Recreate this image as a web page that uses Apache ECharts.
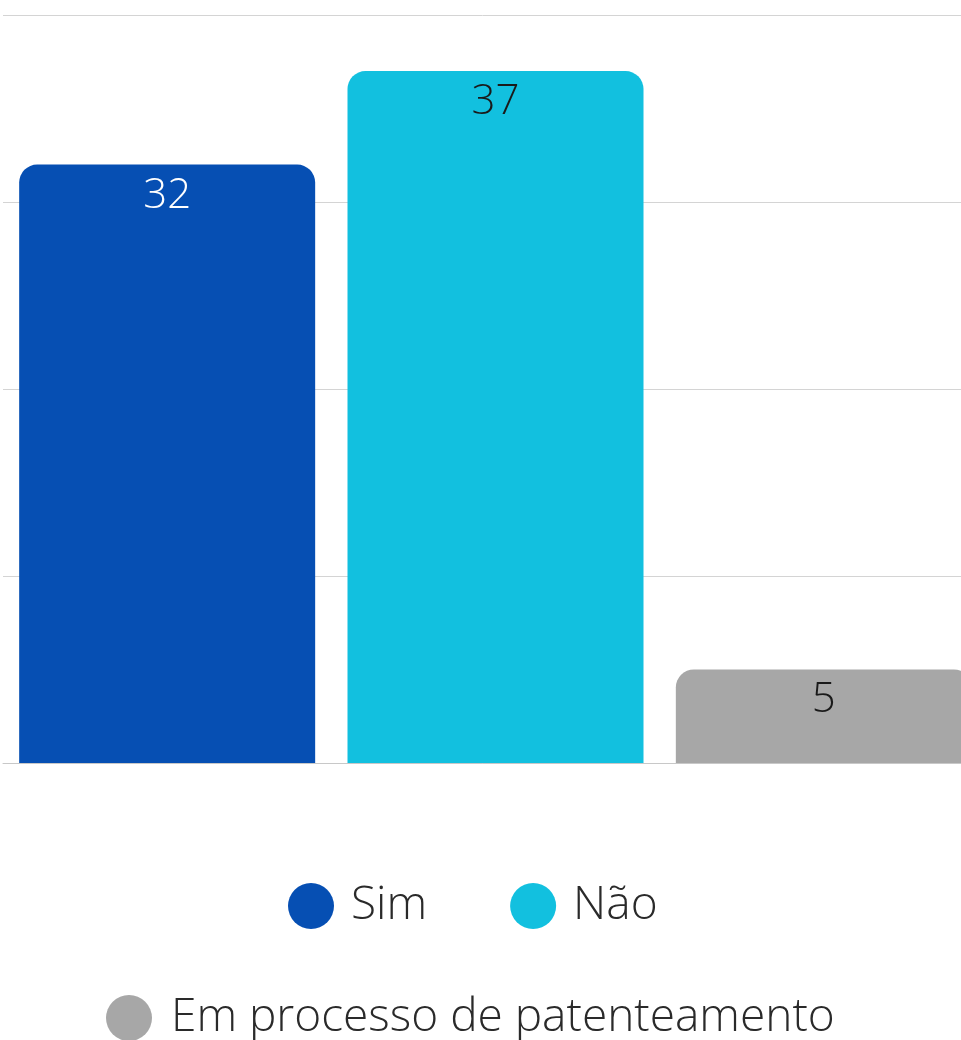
<!DOCTYPE html>
<html>
<head>
<meta charset="utf-8">
<script src="https://cdn.jsdelivr.net/npm/echarts@6/dist/echarts.min.js"></script>
<style>
  html, body { margin: 0; padding: 0; background: #ffffff; }
  #chart { width: 961px; height: 1040px; }
</style>
</head>
<body>
<div id="chart"></div>
<script>
// categorias e valores
var categories = ['Sim', 'Não', 'Em processo de patenteamento'];
var values = [32, 37, 5];
var colors = ['#064fb3', '#12c0df', '#a7a7a7'];
var labelColors = ['#ffffff', '#1a1a1a', '#1a1a1a'];
var yTicks = [0, 10, 20, 30, 40];

var myChart = echarts.init(document.getElementById('chart'));

// uma série por categoria, empilhadas para ficarem centradas
var series = categories.map(function (name, i) {
    var data = categories.map(function (c, j) { return j === i ? values[i] : '-'; });
    return {
        name: name,
        type: 'bar',
        stack: 'total',
        barWidth: 296,
        data: data,
        itemStyle: { color: colors[i], borderRadius: [18, 18, 0, 0] },
        label: {
            show: true,
            position: 'insideTop',
            distance: 10,
            color: labelColors[i],
            fontSize: 42,
            fontFamily: 'Open Sans',
            fontWeight: 300
        }
    };
});

var option = {
    backgroundColor: '#ffffff',
    animation: false,
    grid: { left: 3, top: 15, right: -27, bottom: 277, containLabel: false, outerBoundsMode: 'none' },
    xAxis: {
        type: 'category',
        data: categories,
        axisLine: { show: true, lineStyle: { color: '#c8c8c8', width: 1 } },
        axisTick: { show: false },
        axisLabel: { show: false }
    },
    yAxis: {
        type: 'value',
        min: yTicks[0],
        max: yTicks[yTicks.length - 1],
        interval: 10,
        axisLine: { show: false },
        axisTick: { show: false },
        axisLabel: { show: false },
        splitLine: { lineStyle: { color: '#d4d4d4', width: 1 } }
    },
    legend: [
        {
            data: ['Sim', 'Não'],
            left: 283,
            top: 878,
            icon: 'circle',
            itemWidth: 46,
            itemHeight: 46,
            itemGap: 83,
            textStyle: { fontSize: 46, color: '#2a2a2a', fontFamily: 'Open Sans', fontWeight: 300, padding: [0, 0, 0, 12] }
        },
        {
            data: ['Em processo de patenteamento'],
            left: 101,
            top: 990,
            icon: 'circle',
            itemWidth: 46,
            itemHeight: 46,
            textStyle: { fontSize: 46, color: '#2a2a2a', fontFamily: 'Open Sans', fontWeight: 300, padding: [0, 0, 0, 14] }
        }
    ],
    series: series
};
myChart.setOption(option);
</script>
</body>
</html>
